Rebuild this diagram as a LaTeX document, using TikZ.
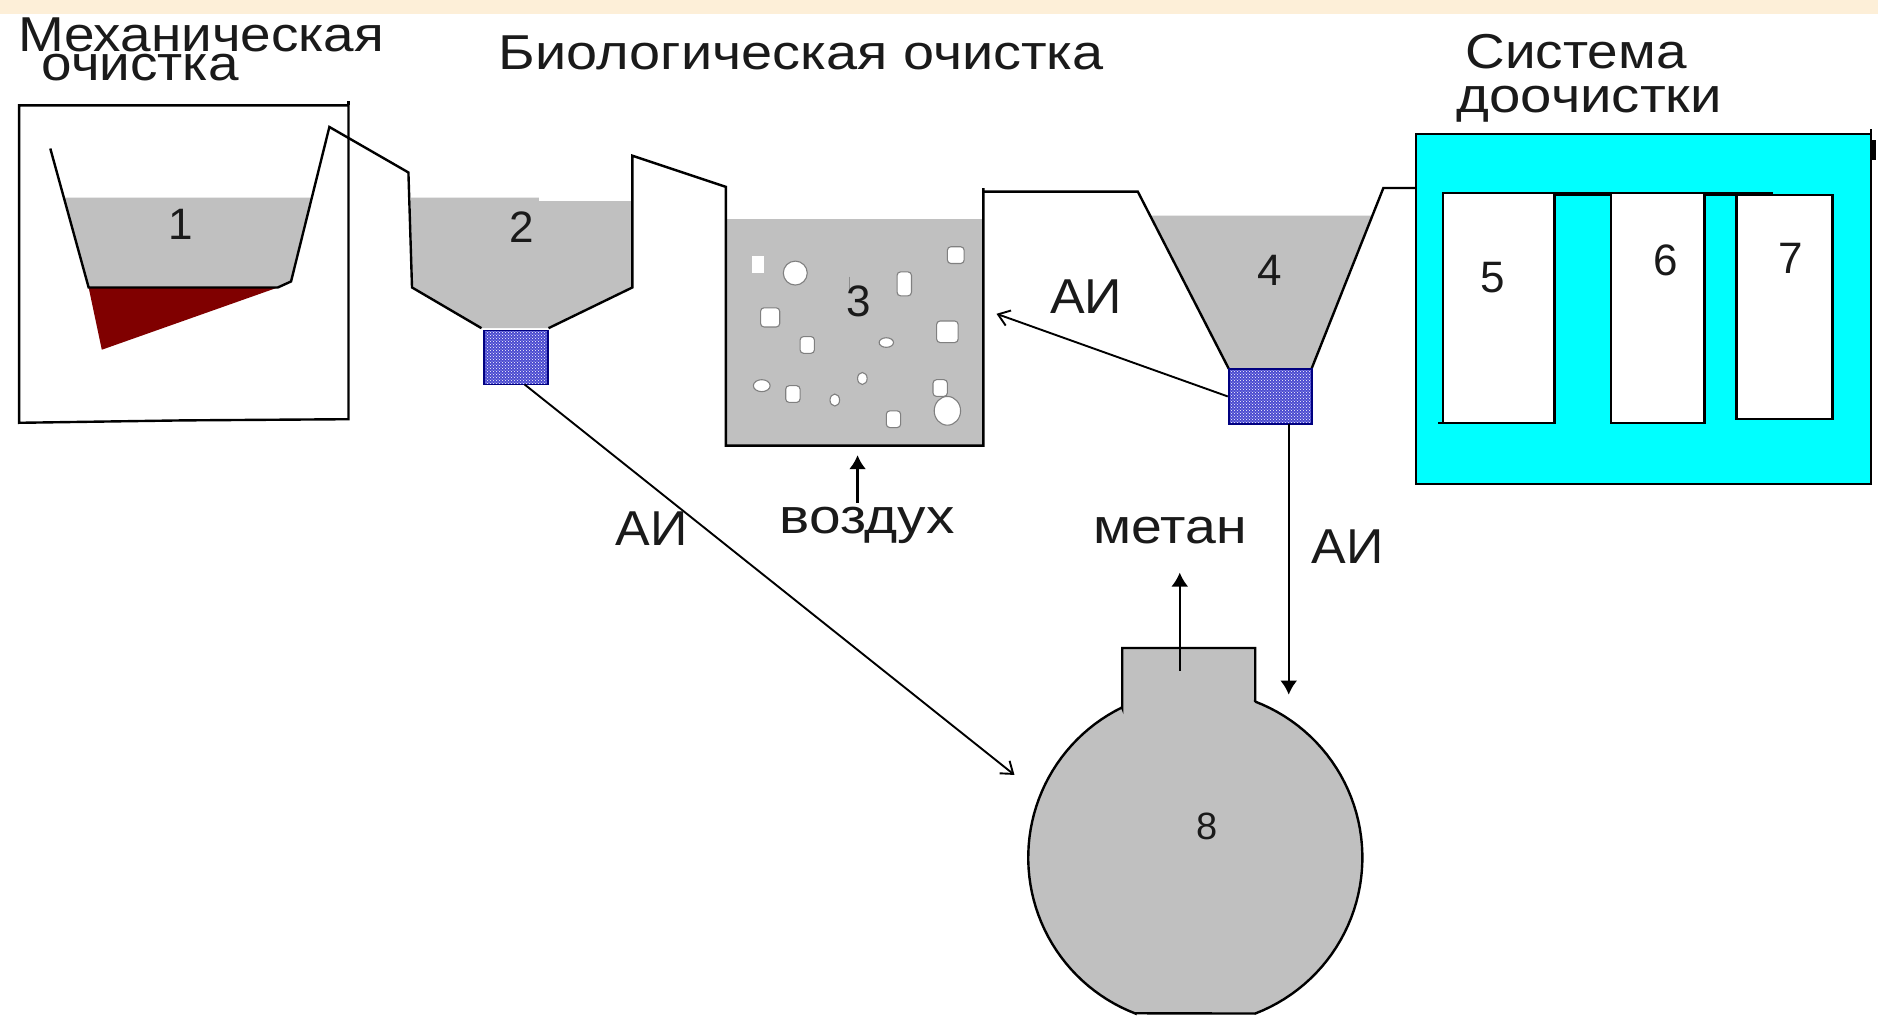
\documentclass[tikz,border=0pt]{standalone}
\usepackage{fontspec}
\usepackage{graphicx}
\setmainfont{Liberation Sans}
\usetikzlibrary{patterns,arrows.meta}
\definecolor{tankgray}{HTML}{C0C0C0}
\definecolor{sludge}{HTML}{800000}
\definecolor{band}{HTML}{FDEFD8}
\definecolor{poolcyan}{HTML}{00FFFF}
\definecolor{inkk}{HTML}{1A1A1A}
\definecolor{filterblue}{HTML}{4A4AD0}
\definecolor{filteredge}{HTML}{000080}
\newcommand{\wtxt}[2]{\scalebox{#1}[1]{#2}}
\tikzset{
  wall/.style={draw=black,line width=2.4pt,line join=miter},
  water/.style={fill=tankgray,draw=none},
  lbl/.style={inner sep=0pt,text=inkk,font=\fontsize{49}{49}\selectfont},
  num/.style={inner sep=0pt,text=inkk,font=\fontsize{44}{44}\selectfont},
  filter/.style={draw=filteredge,line width=1.8pt,inner sep=0pt,minimum width=64pt,minimum height=54pt,
    preaction={fill=filterblue},pattern=crosshatch dots,pattern color=white},
  inner/.style={draw=black,fill=white,line width=2.4pt},
  bubble/.style={draw=black!50,line width=1.1pt,fill=white},
  openflow/.style={draw=black,line width=1.9pt,-{Straight Barb[length=11pt,width=16pt]}},
  solidflow/.style={draw=black,line width=2.4pt,-{Latex[length=14pt,width=17pt]}}
}
\begin{document}
\begin{tikzpicture}[x=1.1977pt,y=-1.1977pt]
\useasboundingbox (0,0) rectangle (1568,850);
\fill[white] (0,0) rectangle (1568,850);
\fill[band] (0,0) rectangle (1568,12);
% tank 1 housing
\draw[wall,fill=white] (16,88) -- (291,88) -- (291,350) -- (152,351) -- (16,353) -- cycle;
\draw[wall] (291,88) -- (291,84);
% fills
\fill[water] (53,165) -- (260,165) -- (243,235) -- (232,240) -- (74,240) -- cycle;
\fill[sludge] (74,240) -- (232,240) -- (85,292) -- cycle;
\fill[water] (343,165) -- (450,165) -- (450,168) -- (528,168) -- (528,240) -- (458,274) -- (402,274) -- (344,240) -- cycle;
\fill[water] (606,183) rectangle (821,372);
\fill[water] (960,180) -- (1146,180) -- (1095,308) -- (1026,308) -- cycle;
% bubbles
\fill[white] (628,214) rectangle (638,228);
\foreach \bx/\by/\brx/\bry in {664/228/10/10,740/286/6/4,636/322/7/5,697/334/4/5,720/316/4/5,791/343/11/12}
  \draw[bubble] (\bx,\by) ellipse [x radius=\brx, y radius=\bry];
\foreach \bx/\by/\brx/\bry in {755/237/6/10,798/213/7/7,643/265/8/8,674/288/6/7,791/277/9/9,662/329/6/7,785/324/6/7,746/350/6/7}
  \draw[bubble,rounded corners=3.5pt] (\bx-\brx,\by-\bry) rectangle (\bx+\brx,\by+\bry);
\draw[black!45,line width=1.2pt] (709,231) -- (709,242);
% main pipe line
\draw[wall] (42,124) -- (74,240) -- (232,240) -- (243,235) -- (275,106) -- (341,144) -- (344,240) -- (402,274);
\draw[wall] (458,274) -- (528,240) -- (528,130) -- (606,156) -- (606,372) -- (821,372) -- (821,157);
\draw[wall] (821,160) -- (950,160) -- (1026,308);
\draw[wall] (1095,308) -- (1155,157) -- (1182,157);
% filter boxes
\node[filter] (filterA) at (430.5,298.5) {};
\node[filter,minimum width=83pt,minimum height=55pt] (filterB) at (1060.5,331) {};
% polishing system
\draw[wall,fill=poolcyan] (1182,112) rectangle (1562,404);
\fill[black] (1562,117) rectangle (1566,134);
\draw[wall] (1562,112) -- (1562,108);
\draw[black,line width=4pt] (1298,162) -- (1345,162);
\draw[black,line width=4pt] (1423,162) -- (1480,162);
\draw[inner] (1205,353) -- (1205,161) -- (1298,161) -- (1298,353) -- (1201,353);
\draw[inner] (1345,161) rectangle (1423,353);
\draw[inner] (1450,163) rectangle (1530,350);
% digester
\draw[wall,fill=tankgray] (937,591) -- (937,541) -- (1048,541) -- (1048,586)
  -- plot[domain=-69:69,samples=50] ({998+139.5*cos(\x)},{716+139.5*sin(\x)})
  -- (948,846)
  -- plot[domain=111:244,samples=50] ({998+139.5*cos(\x)},{716+139.5*sin(\x)}) -- cycle;
% connector ends
\coordinate (aiStartA) at (438,321);
\coordinate (aiEndA) at (847,647);
\coordinate (aiEndB) at (832,262);
\coordinate (aiStartC) at (1076,354);
\coordinate (aiEndC) at (1076,580);
\coordinate (gasStart) at (985,560);
\coordinate (gasEnd) at (985,478);
\coordinate (airStart) at (716,420);
\coordinate (airEnd) at (716,380);
\draw[openflow] (aiStartA) -- (aiEndA);
\draw[openflow] (filterB.west) -- (aiEndB);
\draw[solidflow] (aiStartC) -- (aiEndC);
\draw[solidflow] (gasStart) -- (gasEnd);
\draw[solidflow] (airStart) -- (airEnd);
% labels
\node[lbl] (mechA) at (168,29) {\wtxt{1.12}{Механическая}};
\node[lbl] (mechB) at (117,56) {\wtxt{1.12}{очистка}};
\node[lbl] (bio) at (669,44) {\wtxt{1.14}{Биологическая очистка}};
\node[lbl] (sysA) at (1316,43) {\wtxt{1.12}{Система}};
\node[lbl] (sysB) at (1327,87) {\wtxt{1.15}{доочистки}};
\node[lbl] (aiA) at (907,248) {\wtxt{1.06}{АИ}};
\node[lbl] (aiB) at (544,441) {\wtxt{1.06}{АИ}};
\node[lbl] (aiC) at (1125,456) {\wtxt{1.06}{АИ}};
\node[lbl] (air) at (724,439) {\wtxt{1.16}{воздух}};
\node[lbl] (gas) at (977,443) {\wtxt{1.13}{метан}};
\node[num] (n1) at (151,187) {1};
\node[num] (n2) at (436,190) {2};
\node[num] (n3) at (717,252) {3};
\node[num] (n4) at (1060,226) {4};
\node[num] (n5) at (1246,232) {5};
\node[num] (n6) at (1391,217) {6};
\node[num] (n7) at (1495,216) {7};
\node[num,font=\fontsize{38}{38}\selectfont] (n8) at (1008,690) {8};
\end{tikzpicture}
\end{document}
